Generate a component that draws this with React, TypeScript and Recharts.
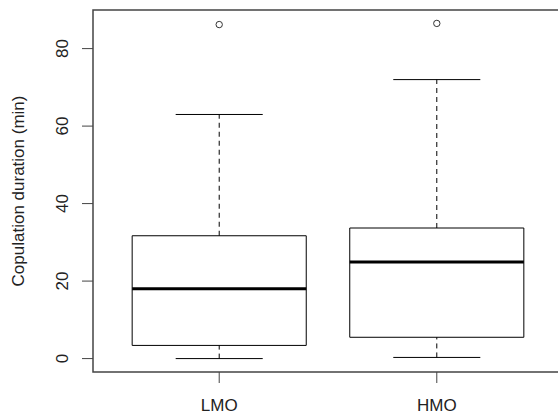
import React from 'react';
import {
  ComposedChart,
  XAxis,
  YAxis,
  Scatter,
  ReferenceArea,
  ReferenceLine,
  Customized,
} from 'recharts';

// Boxplot stats (minutes)
const groups = ['LMO', 'HMO'];
const lowerWhisker = [0, 0.3];
const firstQuartile = [3.4, 5.5];
const medians = [18, 24.9];
const thirdQuartile = [31.7, 33.7];
const upperWhisker = [63, 72];
const outliers = [86.2, 86.5];
const yTicks = [0, 20, 40, 60, 80];

const xDomain: [number, number] = [0.42, 2.58];
const yDomain: [number, number] = [-3.46, 89.96];

const FONT = '"Liberation Sans", Arial, sans-serif';
const INK = '#000';
const FRAME = '#444';

const outlierPoints = outliers.map((v, i) => ({ x: i + 1, y: v }));

const YTick = (props: any) => {
  const { y, payload } = props;
  return (
    <text
      x={68}
      y={y}
      transform={`rotate(-90, 68, ${y})`}
      textAnchor="middle"
      fontFamily={FONT}
      fontSize={17}
      fill="#222"
    >
      {payload.value}
    </text>
  );
};

const XTick = (props: any) => {
  const { x, payload } = props;
  return (
    <text x={x} y={411} textAnchor="middle" fontFamily={FONT} fontSize={17} fill="#222">
      {groups[payload.value - 1]}
    </text>
  );
};

const OpenCircle = (props: any) => {
  const { cx, cy } = props;
  return <circle cx={cx} cy={cy} r={3.2} fill="none" stroke="#333" strokeWidth={1} />;
};

export default function App() {
  return (
    <div style={{ position: 'absolute', left: 0, top: 0, width: 558, height: 416, overflow: 'hidden', background: '#fff' }}>
      <ComposedChart width={563} height={416} margin={{ top: 10, right: 0, bottom: 0, left: 0 }}>
        <XAxis
          type="number"
          dataKey="x"
          domain={xDomain}
          allowDataOverflow
          ticks={[1, 2]}
          tick={<XTick />}
          tickSize={11}
          tickLine={{ stroke: FRAME }}
          axisLine={false}
          height={44}
        />
        <YAxis
          type="number"
          dataKey="y"
          domain={yDomain}
          allowDataOverflow
          ticks={yTicks}
          tick={<YTick />}
          tickSize={11}
          tickLine={{ stroke: FRAME }}
          axisLine={false}
          width={93}
        />

        {/* plot frame */}
        <ReferenceArea
          x1={xDomain[0]}
          x2={xDomain[1]}
          y1={yDomain[0]}
          y2={yDomain[1]}
          fill="none"
          stroke={FRAME}
          strokeWidth={1.5}
          ifOverflow="visible"
        />

        {groups.map((g, i) => {
          const c = i + 1;
          return (
            <React.Fragment key={g}>
              <ReferenceLine
                segment={[{ x: c, y: thirdQuartile[i] }, { x: c, y: upperWhisker[i] }]}
                stroke={INK}
                strokeDasharray="5 4"
              />
              <ReferenceLine
                segment={[{ x: c, y: lowerWhisker[i] }, { x: c, y: firstQuartile[i] }]}
                stroke={INK}
                strokeDasharray="5 4"
              />
              <ReferenceLine
                segment={[{ x: c - 0.2, y: upperWhisker[i] }, { x: c + 0.2, y: upperWhisker[i] }]}
                stroke={INK}
              />
              <ReferenceLine
                segment={[{ x: c - 0.2, y: lowerWhisker[i] }, { x: c + 0.2, y: lowerWhisker[i] }]}
                stroke={INK}
              />
              <ReferenceArea
                x1={c - 0.4}
                x2={c + 0.4}
                y1={firstQuartile[i]}
                y2={thirdQuartile[i]}
                fill="#fff"
                fillOpacity={1}
                stroke={INK}
                strokeWidth={1}
              />
              <ReferenceLine
                segment={[{ x: c - 0.4, y: medians[i] }, { x: c + 0.4, y: medians[i] }]}
                stroke={INK}
                strokeWidth={3}
              />
            </React.Fragment>
          );
        })}

        <Scatter data={outlierPoints} shape={<OpenCircle />} isAnimationActive={false} />

        <Customized
          component={() => (
            <text
              x={24}
              y={191}
              transform="rotate(-90, 24, 191)"
              textAnchor="middle"
              fontFamily={FONT}
              fontSize={17}
              fill="#222"
            >
              Copulation duration (min)
            </text>
          )}
        />
      </ComposedChart>
    </div>
  );
}
